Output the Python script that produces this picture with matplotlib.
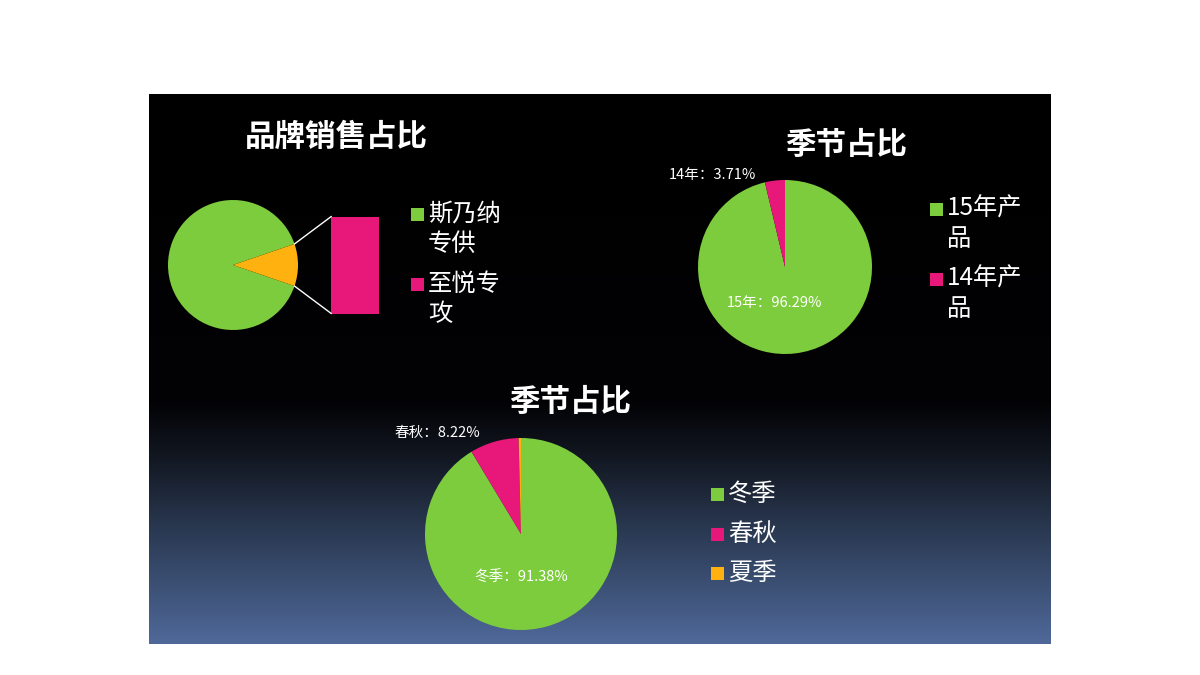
import numpy as np
import matplotlib
matplotlib.use("Agg")
import matplotlib.pyplot as plt
import matplotlib.patches as mpatches

plt.rcParams["font.family"] = ["Noto Sans CJK SC", "DejaVu Sans"]

W, H = 1200, 675

# ── 数据 ───────────────────────────────────────────────
brand_labels = ["斯乃纳\n专供", "至悦专\n攻"]
brand_values = [89.5, 10.5]

year_legend = ["15年产\n品", "14年产\n品"]
year_short = ["15年", "14年"]
year_values = [96.29, 3.71]

season_legend = ["冬季", "春秋", "夏季"]
season_values = [91.38, 8.22, 0.40]

GREEN = "#7dcc3d"
PINK = "#e8177a"
ORANGE = "#ffb20f"


def px_axes(fig, x0, y0, w, h):
    return fig.add_axes([x0 / W, 1 - (y0 + h) / H, w / W, h / H])


def legend_box(fig, x, y, color, text, size=17.5):
    ax = fig.axes[0]
    ax.add_patch(mpatches.Rectangle((x, y - 7), 13, 13, color=color, lw=0))
    ax.text(x + 17, y - 14, text, color="white", fontsize=size,
            ha="left", va="top", linespacing=1.2)


fig = plt.figure(figsize=(W / 100, H / 100), dpi=100, facecolor="white")

# 背景层（像素坐标）
bg = fig.add_axes([0, 0, 1, 1])
bg.axis("off")

stops = [0.0, 0.56, 0.66, 0.80, 1.0]
cols = np.array([[0, 0, 0], [0.01, 0.01, 0.02], [0.07, 0.09, 0.13],
                 [0.17, 0.23, 0.33], [0.31, 0.41, 0.60]])
t = np.linspace(0, 1, 400)
grad = np.stack([np.interp(t, stops, cols[:, i]) for i in range(3)], axis=-1)
bg.imshow(grad[:, None, :], extent=(149, 1051, 644, 94), aspect="auto",
          interpolation="bilinear")
bg.set_xlim(0, W)
bg.set_ylim(H, 0)

# ── 图1：品牌销售占比（复合饼图） ─────────────────────────
bg.text(336, 137, "品牌销售占比", color="white", fontsize=22, fontweight="bold",
        ha="center", va="center")
R1 = 65
ax1 = px_axes(fig, 233 - R1, 265 - 2 * R1, 5 * R1, 4 * R1)
other_angle = brand_values[1] / sum(brand_values) * 360
ax1.pie(brand_values, colors=[GREEN, ORANGE], radius=1,
        startangle=-other_angle / 2, counterclock=False,
        wedgeprops=dict(linewidth=0), center=(0, 0), frame=True)
ax1.set_xlim(-1, 4)
ax1.set_ylim(-2, 2)
ax1.axis("off")
bar_x0, bar_w, bar_h = 1.51, 0.74, 1.49
ax1.bar(bar_x0 + bar_w / 2, bar_h, width=bar_w, bottom=-bar_h / 2 - 0.005,
        color=PINK, linewidth=0)
half = np.deg2rad(other_angle / 2)
for sgn in (1, -1):
    ax1.plot([np.cos(half), bar_x0], [sgn * np.sin(half), sgn * bar_h / 2],
             color="white", lw=1.0)
legend_box(fig, 411, 215, GREEN, brand_labels[0])
legend_box(fig, 411, 285, PINK, brand_labels[1])

# ── 图2：季节占比（年份） ─────────────────────────────────
bg.text(846, 145, "季节占比", color="white", fontsize=22, fontweight="bold",
        ha="center", va="center")
R2 = 87
ax2 = px_axes(fig, 785 - R2, 267 - R2, 2 * R2, 2 * R2)
ax2.pie(year_values, colors=[GREEN, PINK], radius=1, startangle=90,
        counterclock=False, wedgeprops=dict(linewidth=0))
ax2.set_xlim(-1, 1)
ax2.set_ylim(-1, 1)
ax2.text(-0.12, -0.41, f"{year_short[0]}：{year_values[0]:.2f}%",
         color="white", fontsize=10.5, ha="center", va="center")
ax2.text(-0.83, 1.06, f"{year_short[1]}：{year_values[1]:.2f}%",
         color="white", fontsize=10.5, ha="center", va="center", clip_on=False)
legend_box(fig, 930, 210, GREEN, year_legend[0])
legend_box(fig, 930, 280, PINK, year_legend[1])

# ── 图3：季节占比 ─────────────────────────────────────────
bg.text(570, 402, "季节占比", color="white", fontsize=22, fontweight="bold",
        ha="center", va="center")
R3 = 96
ax3 = px_axes(fig, 521 - R3, 534 - R3, 2 * R3, 2 * R3)
ax3.pie(season_values, colors=[GREEN, PINK, ORANGE], radius=1, startangle=90,
        counterclock=False, wedgeprops=dict(linewidth=0))
ax3.set_xlim(-1, 1)
ax3.set_ylim(-1, 1)
ax3.text(0, -0.45, f"{season_legend[0]}：{season_values[0]:.2f}%",
         color="white", fontsize=10.5, ha="center", va="center")
ax3.text(-0.875, 1.05, f"{season_legend[1]}：{season_values[1]:.2f}%",
         color="white", fontsize=10.5, ha="center", va="center", clip_on=False)
for i, (lab, c) in enumerate(zip(season_legend, [GREEN, PINK, ORANGE])):
    legend_box(fig, 711, 495 + i * 39.5, c, lab)

fig.savefig("out.png", dpi=100, facecolor="white")
